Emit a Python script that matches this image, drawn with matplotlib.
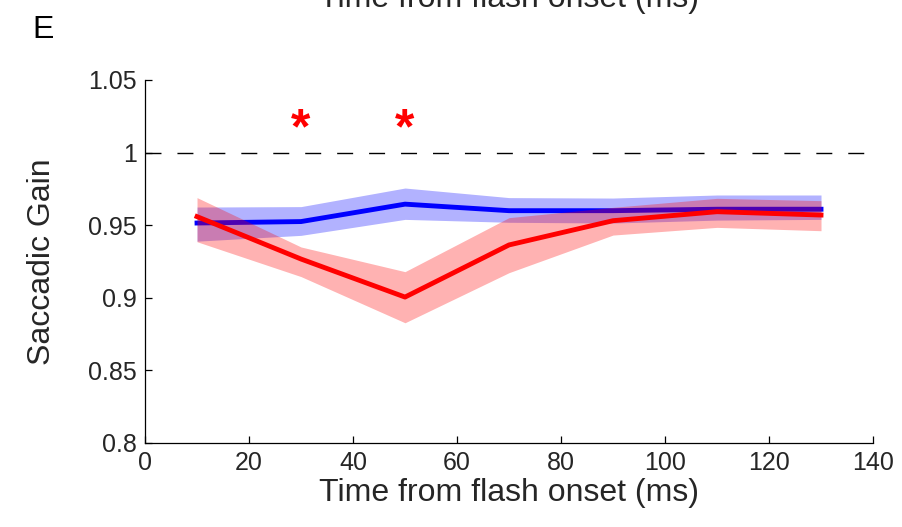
import matplotlib
matplotlib.use('Agg')
import numpy as np
import matplotlib.pyplot as plt

plt.rcParams['font.family'] = ['Liberation Sans', 'DejaVu Sans']

# time bins (ms from flash onset)
t = [10, 30, 50, 70, 90, 110, 130]

# control condition (blue): mean and band limits
blue_mean = [0.9515, 0.9525, 0.9645, 0.9600, 0.9600, 0.9610, 0.9610]
blue_hi = [0.9625, 0.9628, 0.9756, 0.9690, 0.9687, 0.9708, 0.9708]
blue_lo = [0.9390, 0.9430, 0.9540, 0.9520, 0.9515, 0.9535, 0.9540]

# flash condition (red)
red_mean = [0.9559, 0.9267, 0.9005, 0.9364, 0.9531, 0.9593, 0.9570]
red_hi = [0.9690, 0.9350, 0.9180, 0.9552, 0.9623, 0.9685, 0.9669]
red_lo = [0.9386, 0.9146, 0.8828, 0.9173, 0.9432, 0.9485, 0.9462]

# significant bins
sig_t = [30, 50]
sig_y = 1.0155

fig = plt.figure(figsize=(9.03, 5.27), dpi=100)
ax = fig.add_axes([0.1606, 0.1594, 0.8062, 0.6888])

ax.axhline(1.0, color='black', lw=1, dashes=(11.5, 11.5), zorder=1)

ax.fill_between(t, blue_lo, blue_hi, color='blue', alpha=0.3, lw=0, zorder=2)
ax.plot(t, blue_mean, color='blue', lw=3.5, zorder=3)
ax.fill_between(t, red_lo, red_hi, color='red', alpha=0.3, lw=0, zorder=4)
ax.plot(t, red_mean, color='red', lw=3.5, zorder=5)

for x in sig_t:
    ax.text(x, sig_y, '*', color='red', fontsize=36, fontweight='bold',
            ha='center', va='center')

ax.set_xlim(0, 140)
ax.set_ylim(0.8, 1.05)
ax.set_xticks([0, 20, 40, 60, 80, 100, 120, 140])
ax.set_yticks([0.8, 0.85, 0.9, 0.95, 1.0, 1.05])
ax.set_yticklabels(['0.8', '0.85', '0.9', '0.95', '1', '1.05'])

for s in ['top', 'right']:
    ax.spines[s].set_visible(False)
for s in ['left', 'bottom']:
    ax.spines[s].set_linewidth(0.9)

ax.tick_params(direction='in', length=5, width=0.9, labelsize=18, pad=6,
               colors='black')
ax.tick_params(axis='x', labelcolor='#262626')
ax.tick_params(axis='y', labelcolor='#262626')

ax.set_xlabel('Time from flash onset (ms)', fontsize=23, color='#262626',
              labelpad=2)
ax.set_ylabel('Saccadic Gain', fontsize=23, color='#262626', labelpad=22)

# panel letter and clipped label from the panel above
fig.text(32 / 903, 1 - 38 / 527, 'E', fontsize=23, color='black',
         ha='left', va='baseline')
fig.text(509 / 903, 1 - 7 / 527, 'Time from flash onset (ms)', fontsize=23,
         color='#262626', ha='center', va='baseline')

fig.savefig('out.png', dpi=100)
